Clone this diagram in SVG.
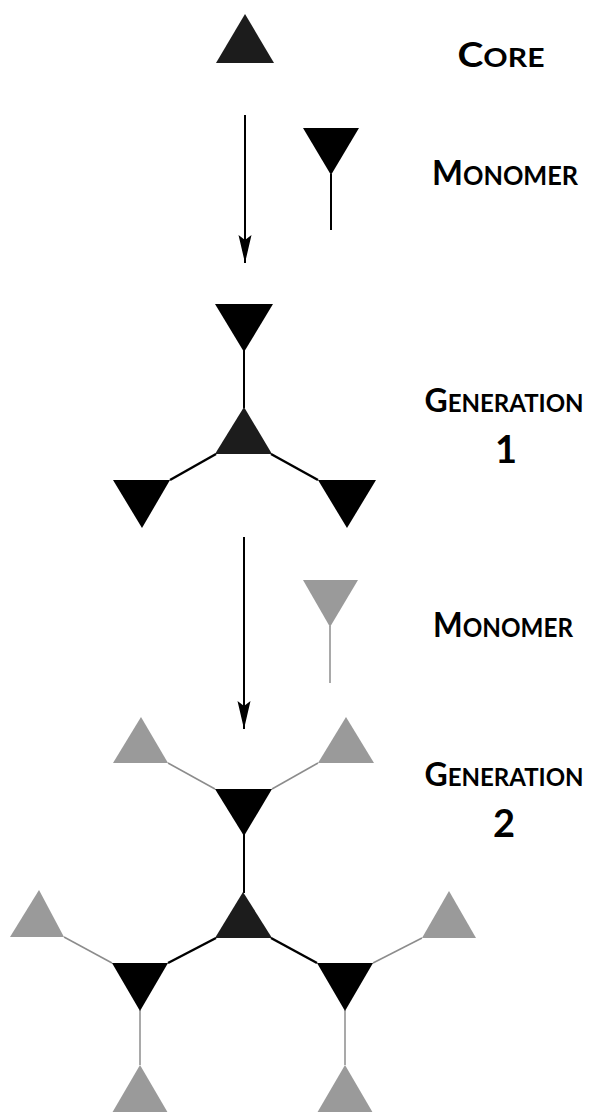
<svg xmlns="http://www.w3.org/2000/svg" width="594" height="1112" viewBox="0 0 594 1112">
<style>
.dark{fill:#1c1c1c}
.blk{fill:#000}
.gray{fill:#9a9a9a}
.bl{stroke:#000;stroke-width:2.5;fill:none}
.st{stroke:#000;stroke-width:2;fill:none}
.gl{stroke:#8c8c8c;stroke-width:1.5;fill:none}
.arrow{stroke:#000;stroke-width:2;fill:none;marker-end:url(#ah)}
.lbl{font-family:Lato,"Liberation Sans",sans-serif;font-weight:bold;fill:#000;text-anchor:middle}
.big{font-size:35px}
.sm{font-size:27px}
.gbig{font-size:32px}
.gsm{font-size:24px}
.num{font-size:38px}
</style>
<defs>
<marker id="ah" markerUnits="userSpaceOnUse" markerWidth="32" markerHeight="18" refX="28" refY="8" orient="auto">
<path d="M0,1.5 L28,8 L0,14.5 L5,8 Z" fill="#000"/>
</marker>
</defs>
<rect width="594" height="1112" fill="#fff"/>
<g id="connectors">
<line class="arrow" x1="245" y1="115" x2="245" y2="263"/>
<line class="arrow" x1="244" y1="537" x2="244" y2="729"/>
<line class="st" x1="331" y1="174" x2="331" y2="230"/>
<line class="st" x1="244" y1="350" x2="244" y2="408"/>
<line class="bl" x1="216" y1="454" x2="170" y2="480"/>
<line class="bl" x1="271" y1="454" x2="318" y2="480"/>
<line class="gl" x1="330" y1="626" x2="330" y2="683"/>
<line class="gl" x1="168" y1="763" x2="215" y2="789"/>
<line class="gl" x1="318" y1="763" x2="272" y2="789"/>
<line class="st" x1="244" y1="834" x2="244" y2="893"/>
<line class="bl" x1="216" y1="938" x2="168" y2="963"/>
<line class="bl" x1="271" y1="938" x2="317" y2="963"/>
<line class="gl" x1="64" y1="937" x2="112" y2="963"/>
<line class="gl" x1="373" y1="963" x2="422" y2="938"/>
<line class="gl" x1="140" y1="1010" x2="140" y2="1065"/>
<line class="gl" x1="345" y1="1010" x2="345" y2="1065"/>
</g>
<g id="core"><polygon class="dark" points="245,14 216,63 274,63"/></g>
<g id="monomer1"><polygon class="blk" points="303,128 359,128 331,175"/></g>
<g id="gen1">
<polygon class="blk" points="215,304 273,304 244,352"/>
<polygon class="dark" points="244,407 215,454 272,454"/>
<polygon class="blk" points="113,480 170,480 142,528"/>
<polygon class="blk" points="318,480 376,480 347,528"/>
</g>
<g id="monomer2"><polygon class="gray" points="303,580 358,580 330,627"/></g>
<g id="gen2">
<polygon class="gray" points="141,717 113,763 168,763"/>
<polygon class="gray" points="346,717 318,763 374,763"/>
<polygon class="blk" points="215,789 272,789 244,836"/>
<polygon class="dark" points="243,892 215,938 272,938"/>
<polygon class="blk" points="112,963 168,963 140,1011"/>
<polygon class="blk" points="317,963 373,963 345,1011"/>
<polygon class="gray" points="39,890 10,937 64,937"/>
<polygon class="gray" points="449,891 422,938 476,938"/>
<polygon class="gray" points="140,1065 112,1113 168,1113"/>
<polygon class="gray" points="345,1065 317,1113 373,1113"/>
</g>
<g id="labels">
<text class="lbl" x="501" y="67" textLength="87" lengthAdjust="spacingAndGlyphs"><tspan class="big">C</tspan><tspan class="sm">ORE</tspan></text>
<text class="lbl" x="505" y="185" textLength="146" lengthAdjust="spacingAndGlyphs"><tspan class="big">M</tspan><tspan class="sm">ONOMER</tspan></text>
<text class="lbl" x="504" y="412"><tspan class="gbig">G</tspan><tspan class="gsm">ENERATION</tspan></text>
<text class="lbl num" x="506" y="463">1</text>
<text class="lbl" x="503" y="637" textLength="140" lengthAdjust="spacingAndGlyphs"><tspan class="big">M</tspan><tspan class="sm">ONOMER</tspan></text>
<text class="lbl" x="504" y="786"><tspan class="gbig">G</tspan><tspan class="gsm">ENERATION</tspan></text>
<text class="lbl num" x="504" y="837">2</text>
</g>
</svg>
